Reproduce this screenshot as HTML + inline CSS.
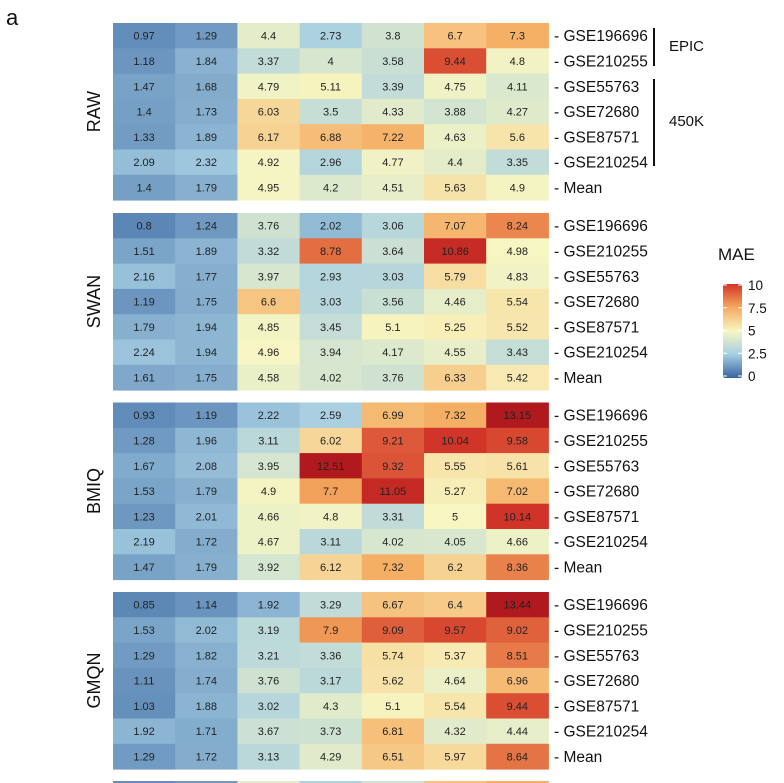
<!DOCTYPE html>
<html><head><meta charset="utf-8"><style>
body{margin:0;background:#fff;}
svg{display:block;font-family:"Liberation Sans",Arial,sans-serif;}
</style></head><body>
<svg id="chart" width="784" height="783">
<text x="6" y="25" font-size="22" fill="#111">a</text>
</svg>
<script>
const methods = ["RAW","SWAN","BMIQ","GMQN"];
const datasets = ["GSE196696","GSE210255","GSE55763","GSE72680","GSE87571","GSE210254","Mean"];
const valuesRAW = [
[0.97,1.29,4.4,2.73,3.8,6.7,7.3],
[1.18,1.84,3.37,4,3.58,9.44,4.8],
[1.47,1.68,4.79,5.11,3.39,4.75,4.11],
[1.4,1.73,6.03,3.5,4.33,3.88,4.27],
[1.33,1.89,6.17,6.88,7.22,4.63,5.6],
[2.09,2.32,4.92,2.96,4.77,4.4,3.35],
[1.4,1.79,4.95,4.2,4.51,5.63,4.9]];
const valuesSWAN = [
[0.8,1.24,3.76,2.02,3.06,7.07,8.24],
[1.51,1.89,3.32,8.78,3.64,10.86,4.98],
[2.16,1.77,3.97,2.93,3.03,5.79,4.83],
[1.19,1.75,6.6,3.03,3.56,4.46,5.54],
[1.79,1.94,4.85,3.45,5.1,5.25,5.52],
[2.24,1.94,4.96,3.94,4.17,4.55,3.43],
[1.61,1.75,4.58,4.02,3.76,6.33,5.42]];
const valuesBMIQ = [
[0.93,1.19,2.22,2.59,6.99,7.32,13.15],
[1.28,1.96,3.11,6.02,9.21,10.04,9.58],
[1.67,2.08,3.95,12.51,9.32,5.55,5.61],
[1.53,1.79,4.9,7.7,11.05,5.27,7.02],
[1.23,2.01,4.66,4.8,3.31,5,10.14],
[2.19,1.72,4.67,3.11,4.02,4.05,4.66],
[1.47,1.79,3.92,6.12,7.32,6.2,8.36]];
const valuesGMQN = [
[0.85,1.14,1.92,3.29,6.67,6.4,13.44],
[1.53,2.02,3.19,7.9,9.09,9.57,9.02],
[1.29,1.82,3.21,3.36,5.74,5.37,8.51],
[1.11,1.74,3.76,3.17,5.62,4.64,6.96],
[1.03,1.88,3.02,4.3,5.1,5.54,9.44],
[1.92,1.71,3.67,3.73,6.81,4.32,4.44],
[1.29,1.72,3.13,4.29,6.51,5.97,8.64]];
const allValues = [valuesRAW,valuesSWAN,valuesBMIQ,valuesGMQN];
const legendTicks = [0,2.5,5,7.5,10];

const NS="http://www.w3.org/2000/svg";
const svg=document.getElementById('chart');
function mk(tag,attrs,parent){const e=document.createElementNS(NS,tag);for(const k in attrs)e.setAttribute(k,attrs[k]);(parent||svg).appendChild(e);return e;}
const stops=[[0,[56,100,160]],[2.5,[166,206,226]],[5,[247,246,194]],[7.5,[245,170,94]],[10,[210,52,40]],[12.5,[176,26,30]]];
function color(v){v=Math.max(0,Math.min(12.5,v));for(let i=0;i<stops.length-1;i++){const a=stops[i],b=stops[i+1];if(v<=b[0]){const t=(v-a[0])/(b[0]-a[0]);const c=a[1].map((x,j)=>Math.round(x+(b[1][j]-x)*t));return `rgb(${c})`;}}return 'rgb(176,26,30)';}
const x0=113,cw=62.2,rh=25.3,panelTops=[23,213,402.5,592];
function xPos(c){return x0+c*cw;}
function yPos(p,r){return panelTops[p]+r*rh;}
allValues.forEach((vals,p)=>{
  const g=mk('g',{});
  
  
  vals.forEach((row,r)=>row.forEach((v,c)=>{
    const rc=mk('rect',{x:xPos(c),y:yPos(p,r),width:cw+0.5,height:rh+0.5,fill:color(v)},g);
    
    
    const t=mk('text',{x:xPos(c)+cw/2,y:yPos(p,r)+rh/2+4,'text-anchor':'middle','font-size':11,fill:'#222'},g);
    t.textContent=v;
    
    
  }));
  datasets.forEach((d,r)=>{
    const t=mk('text',{x:554,y:yPos(p,r)+rh/2+5.5,'font-size':15.5,fill:'#111'},g);
    t.textContent='- '+d;
    
    
  });
  const cy=panelTops[p]+rh*3.5;
  const yt=mk('text',{x:0,y:0,transform:`translate(100,${cy}) rotate(-90)`,'text-anchor':'middle','font-size':18,fill:'#111'},g);
  yt.textContent=methods[p];
  
  
});
for(let c=0;c<7;c++){const r=mk('rect',{x:xPos(c),y:781,width:cw+0.5,height:3,fill:color(valuesRAW[0][c])});

}
const b1=mk('line',{x1:654,y1:28,x2:654,y2:66,stroke:'#111','stroke-width':2});


const b2=mk('line',{x1:654,y1:79,x2:654,y2:166,stroke:'#111','stroke-width':2});


const e1=mk('text',{x:669,y:51,'font-size':15,fill:'#111'});e1.textContent='EPIC';


const e2=mk('text',{x:669,y:126,'font-size':15,fill:'#111'});e2.textContent='450K';


const defs=mk('defs',{});
const lg=mk('linearGradient',{id:'lg',x1:0,y1:1,x2:0,y2:0},defs);
[0,2.5,5,7.5,10].forEach(v=>mk('stop',{offset:v/10,'stop-color':color(v)},lg));
const lt=mk('text',{x:718,y:260,'font-size':17,fill:'#111'});lt.textContent='MAE';


const ly0=376,ly1=285;
function ly(v){return ly0+(ly1-ly0)*v/10;}
const lb=mk('rect',{x:723,y:ly(10)-1,width:19,height:ly(0)-ly(10)+3,fill:'url(#lg)',rx:2});


legendTicks.forEach(v=>{
  mk('line',{x1:723,x2:727,y1:ly(v),y2:ly(v),stroke:'#fff','stroke-width':1});
  mk('line',{x1:738,x2:742,y1:ly(v),y2:ly(v),stroke:'#fff','stroke-width':1});
  const t=mk('text',{x:748,y:ly(v)+5,'font-size':13.5,fill:'#111'});t.textContent=v;
  
  
});
</script>
</body></html>
